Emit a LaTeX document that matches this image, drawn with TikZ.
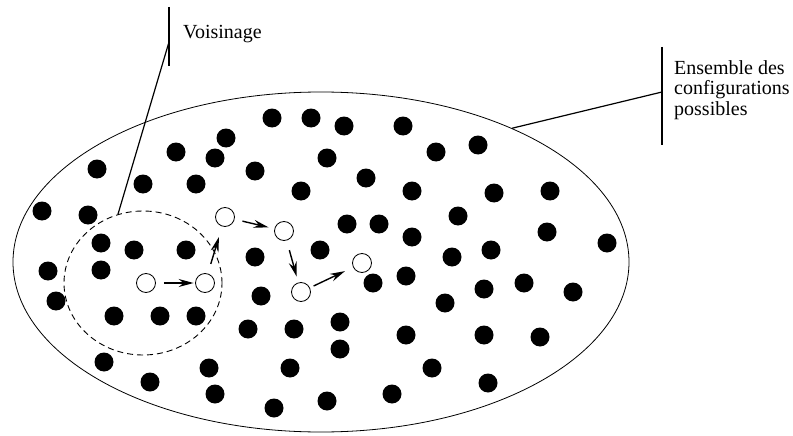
\documentclass[tikz,border=0pt]{standalone}
\usepackage{fontspec}
\setmainfont{Liberation Serif}
\usetikzlibrary{shapes.geometric,arrows.meta}

\tikzset{
  visited/.style={circle,draw=black,line width=0.8pt,fill=white,minimum size=19pt,inner sep=0pt},
  move/.style={-{Stealth[length=15pt,width=8pt,inset=5pt]},line width=1.4pt,shorten <=8pt,shorten >=6pt},
  leader/.style={line width=1.2pt},
  note/.style={anchor=base west,inner sep=0pt,font=\fontsize{20}{20.5}\selectfont,align=left}
}

\begin{document}
\begin{tikzpicture}[x=1pt,y=-1pt]
\useasboundingbox (0,0) rectangle (793,436);

\node [ellipse,draw,line width=0.8pt,minimum width=616pt,minimum height=340pt,inner sep=0pt] (space) at (321,262) {};
\node [ellipse,draw,dash pattern=on 6pt off 4pt,line width=0.9pt,minimum width=158pt,minimum height=144pt,inner sep=0pt] (nbhd) at (143,283) {};

% configurations
\foreach \x/\y in {272/118,311/118,344/126,403/126,226/138,478/145,176/152,436/152,215/158,327/158,
  97/169,255/171,366/178,143/184,196/184,301/191,412/191,494/193,550/191,42/211,88/215,458/216,
  347/224,379/224,412/237,547/232,101/243,607/243,134/250,186/250,320/250,491/250,255/257,452/257,
  48/271,101/270,406/276,373/283,524/283,261/296,484/289,573/292,56/301,445/303,114/316,160/316,
  196/316,340/322,248/329,294/329,406/335,484/335,540/337,340/349,104/362,209/368,290/368,432/368,
  150/382,488/383,215/394,392/394,327/401,274/408}
  \fill (\x,\y) circle (9.5pt);

% chemin
\node [visited] (c1) at (146,283) {};
\node [visited] (c2) at (205,283) {};
\node [visited] (c3) at (225,217) {};
\node [visited] (c4) at (284,231) {};
\node [visited] (c5) at (301,292) {};
\node [visited] (c6) at (362,263) {};

\draw [move,shorten >=1.5pt] (c1) -- (c2);
\draw [move,shorten <=10pt,shorten >=11pt] (c2) -- (c3);
\draw [move] (c3) -- (c4);
\draw [move,shorten <=10pt] (c4) -- (c5);
\draw [move,shorten <=4pt,shorten >=9pt] (c5) -- (c6);

% legendes
\draw [leader] (169,7) -- (169,66);
\coordinate (vois-pt) at (169,42);
\draw [leader] (vois-pt) -- (nbhd.110);
\node [note] (vois) at (183,39) {Voisinage};

\draw [leader] (662,47) -- (662,145);
\coordinate (ens-pt) at (662,92);
\draw [leader] (ens-pt) -- (space.35);
\node [note] (ens) at (674,115) {Ensemble des\\configurations\\possibles};

\end{tikzpicture}
\end{document}
